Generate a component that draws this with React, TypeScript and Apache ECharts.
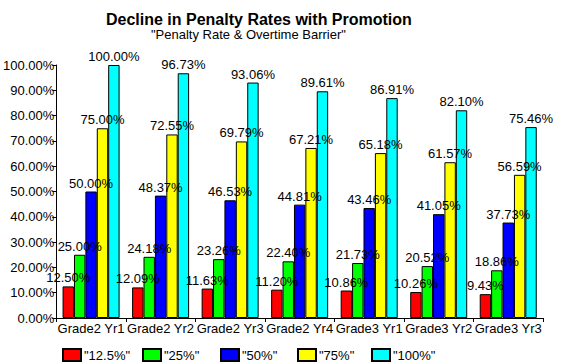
import React, { useEffect, useRef } from "react";
import * as echarts from "echarts";

const categories = ["Grade2 Yr1", "Grade2 Yr2", "Grade2 Yr3", "Grade2 Yr4", "Grade3 Yr1", "Grade3 Yr2", "Grade3 Yr3"];
const seriesNames = ['"12.5%"', '"25%"', '"50%"', '"75%"', '"100%"'];
const colors = ["#ff0000", "#00ff00", "#0000ff", "#ffff00", "#00ffff"];
const s125 = [12.5, 12.09, 11.63, 11.2, 10.86, 10.26, 9.43];
const s25 = [25.0, 24.18, 23.26, 22.4, 21.73, 20.52, 18.86];
const s50 = [50.0, 48.37, 46.53, 44.81, 43.46, 41.05, 37.73];
const s75 = [75.0, 72.55, 69.79, 67.21, 65.18, 61.57, 56.59];
const s100 = [100.0, 96.73, 93.06, 89.61, 86.91, 82.1, 75.46];
const allSeries = [s125, s25, s50, s75, s100];
const legendLefts = [62, 142, 220, 297, 371];

const FONT = "'Liberation Sans', Arial, sans-serif";

export default function App() {
  const ref = useRef<HTMLDivElement>(null);
  useEffect(() => {
    if (!ref.current) return;
    const chart = echarts.init(ref.current, undefined, { renderer: "svg" });
    chart.setOption({
      animation: false,
      backgroundColor: "#ffffff",
      textStyle: { fontFamily: FONT },
      title: [
        {
          text: "Decline in Penalty Rates with Promotion",
          left: 106,
          top: 11,
          padding: 0,
          textStyle: { fontSize: 16, fontWeight: "bold", color: "#000", fontFamily: FONT },
        },
        {
          text: '"Penalty Rate & Overtime Barrier"',
          left: 151,
          top: 28,
          padding: 0,
          textStyle: { fontSize: 13, fontWeight: "normal", color: "#000", fontFamily: FONT },
        },
      ],
      legend: seriesNames.map((n, i) => ({
        data: [n],
        left: legendLefts[i],
        top: 348,
        padding: 0,
        itemWidth: 18,
        itemHeight: 12,
        itemGap: 0,
        icon: "rect",
        selectedMode: false,
        textStyle: { fontSize: 13, color: "#000", fontFamily: FONT, padding: [0, 0, 0, -2] },
      })),
      grid: { left: 55, right: 18, top: 65, bottom: 46, containLabel: false },
      xAxis: {
        type: "category",
        data: categories,
        axisLine: { lineStyle: { color: "#000", width: 1 } },
        axisTick: { show: true, length: 4, lineStyle: { color: "#000" }, alignWithLabel: false },
        axisLabel: { color: "#000", fontSize: 13, margin: 4, interval: 0, fontFamily: FONT },
        splitLine: { show: false },
      },
      yAxis: {
        type: "value",
        min: 0,
        max: 100,
        interval: 10,
        axisLine: { show: true, lineStyle: { color: "#000", width: 1 } },
        axisTick: { show: true, length: 4, lineStyle: { color: "#000" } },
        axisLabel: {
          color: "#000",
          fontSize: 13,
          margin: 2,
          fontFamily: FONT,
          formatter: (v: number) => v.toFixed(2) + "%",
        },
        splitLine: { show: false },
      },
      series: allSeries.map((d, i) => ({
        name: seriesNames[i],
        type: "bar",
        data: d,
        barGap: "0%",
        barCategoryGap: "18%",
        itemStyle: { color: colors[i], borderColor: "#000", borderWidth: 1 },
        label: {
          show: true,
          position: "top",
          distance: 2,
          color: "#000",
          fontSize: 13,
          fontFamily: FONT,
          formatter: (p: any) => Number(p.value).toFixed(2) + "%",
        },
      })),
    });
    return () => chart.dispose();
  }, []);
  return <div ref={ref} style={{ width: 561, height: 364, position: "absolute", left: 0, top: 0 }} />;
}
